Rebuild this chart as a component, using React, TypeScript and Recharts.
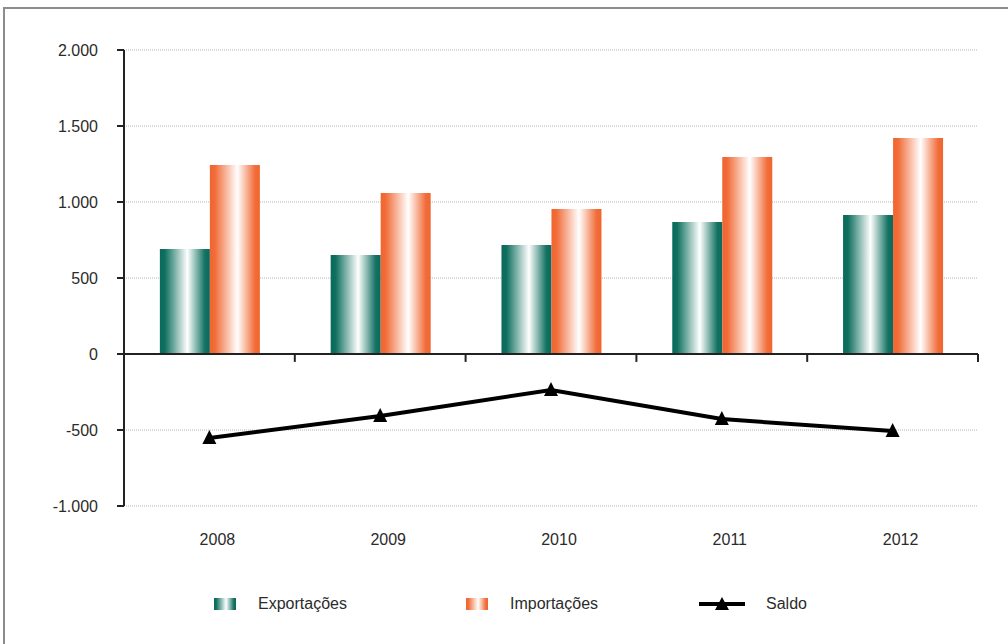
import React from "react";
import {
  Bar,
  CartesianGrid,
  ComposedChart,
  Legend,
  Line,
  ReferenceLine,
  XAxis,
  YAxis,
} from "recharts";

const years = ["2008", "2009", "2010", "2011", "2012"];
const exportacoes = [691, 651, 717, 868, 914];
const importacoes = [1243, 1059, 954, 1296, 1421];
const saldo = [-552, -408, -237, -428, -507];
const yTicks = [-1000, -500, 0, 500, 1000, 1500, 2000];

const data = years.map((year, i) => ({
  year,
  exportacoes: exportacoes[i],
  importacoes: importacoes[i],
  saldo: saldo[i],
}));

const FONT = '"Liberation Sans", Arial, sans-serif';
const FONT_SIZE = 16;
const TEXT_COLOR = "#2b2b2b";
const AXIS_COLOR = "#222";

// thousands separator with a dot, e.g. 1.500 / -1.000
const formatNumber = (v: number) => {
  const s = Math.abs(v).toString().replace(/\B(?=(\d{3})+(?!\d))/g, ".");
  return v < 0 ? `-${s}` : s;
};

// small downward ticks on the zero line, at the edges of each category
const zeroTicks = [
  ...years.slice(1).map((y) => ({ year: y, position: "start" as const })),
  { year: years[years.length - 1], position: "end" as const },
];

const Triangle = (props: any) => {
  const { cx, cy } = props;
  if (cx == null || cy == null) return null;
  return (
    <polygon
      points={`${cx - 7},${cy + 6} ${cx + 7},${cy + 6} ${cx},${cy - 8}`}
      fill="#000"
    />
  );
};

const YearTick = (props: any) => {
  const { x, y, payload } = props;
  return (
    <text
      x={x + 8}
      y={y}
      dy="0.71em"
      textAnchor="middle"
      fill={TEXT_COLOR}
      fontSize={FONT_SIZE}
      fontFamily={FONT}
    >
      {payload.value}
    </text>
  );
};

const legendSlots = [
  { left: 214, textGap: 44 },
  { left: 466, textGap: 44 },
  { left: 699, textGap: 67 },
];

const LegendContent = (props: any) => {
  const payload = props.payload || [];
  return (
    <div style={{ position: "relative", width: 1008, height: 20 }}>
      {payload.map((entry: any, i: number) => {
        const slot = legendSlots[i] || legendSlots[0];
        const isLine = entry.type === "line" || entry.dataKey === "saldo";
        return (
          <div
            key={entry.value}
            style={{ position: "absolute", left: slot.left, top: 0, height: 20 }}
          >
            <svg
              width={isLine ? 46 : 24}
              height={20}
              style={{ position: "absolute", left: 0, top: 0 }}
            >
              {isLine ? (
                <g>
                  <line x1={0} y1={10} x2={46} y2={10} stroke="#000" strokeWidth={4} />
                  <polygon points="16,16 30,16 23,3" fill="#000" />
                </g>
              ) : (
                <rect
                  x={0}
                  y={4}
                  width={22}
                  height={12}
                  fill={entry.dataKey === "exportacoes" ? "url(#gradExp)" : "url(#gradImp)"}
                />
              )}
            </svg>
            <span
              style={{
                position: "absolute",
                left: slot.textGap,
                top: 1,
                lineHeight: "18px",
                whiteSpace: "nowrap",
                fontFamily: FONT,
                fontSize: FONT_SIZE,
                color: TEXT_COLOR,
              }}
            >
              {entry.value}
            </span>
          </div>
        );
      })}
    </div>
  );
};

export default function App() {
  return (
    <div
      style={{
        position: "fixed",
        left: 0,
        top: 0,
        width: 1008,
        height: 644,
        overflow: "hidden",
        background: "#fff",
      }}
    >
      <div
        style={{
          position: "absolute",
          left: 3,
          top: 7,
          width: 1020,
          height: 660,
          border: "2px solid #8c8c8c",
        }}
      />
      <div style={{ position: "absolute", left: 0, top: 0 }}>
        <ComposedChart
          width={1008}
          height={644}
          data={data}
          margin={{ top: 50, right: 30, left: 64, bottom: 108 }}
          barCategoryGap="21%"
          barGap={0}
        >
          <defs>
            <linearGradient id="gradExp" x1="0" y1="0" x2="1" y2="0">
              <stop offset="0%" stopColor="#0a6a5b" />
              <stop offset="10%" stopColor="#10705f" />
              <stop offset="55%" stopColor="#ffffff" />
              <stop offset="90%" stopColor="#137262" />
              <stop offset="100%" stopColor="#0a6a5b" />
            </linearGradient>
            <linearGradient id="gradImp" x1="0" y1="0" x2="1" y2="0">
              <stop offset="0%" stopColor="#f0652f" />
              <stop offset="10%" stopColor="#f16c38" />
              <stop offset="55%" stopColor="#ffffff" />
              <stop offset="90%" stopColor="#f16d3a" />
              <stop offset="100%" stopColor="#f0652f" />
            </linearGradient>
          </defs>
          <CartesianGrid
            horizontal
            vertical={false}
            stroke="#b5b5b5"
            strokeDasharray="1 1"
          />
          <XAxis
            dataKey="year"
            axisLine={false}
            tickLine={false}
            tickSize={6}
            tickMargin={22}
            height={30}
            tick={<YearTick />}
            interval={0}
          />
          <YAxis
            domain={[-1000, 2000]}
            ticks={yTicks}
            interval={0}
            width={60}
            tickFormatter={formatNumber}
            axisLine={{ stroke: AXIS_COLOR, strokeWidth: 2 }}
            tickLine={{ stroke: AXIS_COLOR, strokeWidth: 2 }}
            tickSize={7}
            tickMargin={19}
            tick={{ fill: TEXT_COLOR, fontSize: FONT_SIZE, fontFamily: FONT }}
          />
          <Bar
            dataKey="exportacoes"
            name="Exportações"
            fill="url(#gradExp)"
            isAnimationActive={false}
          />
          <Bar
            dataKey="importacoes"
            name="Importações"
            fill="url(#gradImp)"
            isAnimationActive={false}
          />
          <ReferenceLine y={0} stroke={AXIS_COLOR} strokeWidth={2} />
          {zeroTicks.map((t, i) => (
            <ReferenceLine
              key={i}
              position={t.position}
              segment={[
                { x: t.year, y: 0 },
                { x: t.year, y: -52 },
              ]}
              stroke={AXIS_COLOR}
              strokeWidth={2}
            />
          ))}
          <Line
            dataKey="saldo"
            name="Saldo"
            type="linear"
            stroke="#000"
            strokeWidth={4}
            dot={<Triangle />}
            activeDot={false}
            isAnimationActive={false}
          />
          <Legend
            layout="horizontal"
            verticalAlign="middle"
            align="center"
            content={<LegendContent />}
            wrapperStyle={{ top: 594, left: 0, width: 1008, height: 20 }}
          />
        </ComposedChart>
      </div>
    </div>
  );
}
